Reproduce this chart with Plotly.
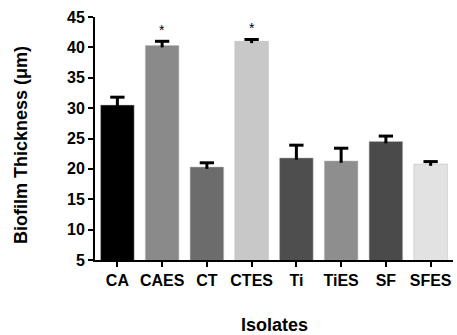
import plotly.graph_objects as go

categories = ["CA", "CAES", "CT", "CTES", "Ti", "TiES", "SF", "SFES"]
values = [30.5, 40.3, 20.3, 41.0, 21.8, 21.3, 24.5, 20.8]
errors = [1.3, 0.7, 0.7, 0.3, 2.1, 2.1, 0.9, 0.4]
colors = ["#000000", "#8a8a8a", "#6c6c6c", "#c8c8c8", "#4e4e4e", "#8e8e8e", "#4a4a4a", "#e2e2e2"]
marks = ["", "*", "", "*", "", "", "", ""]
y_ticks = [5, 10, 15, 20, 25, 30, 35, 40, 45]

W, H = 457, 335
ML, MR, MT, MB = 95, 4, 17, 75
plot_w = W - ML - MR
plot_h = H - MT - MB
xpos = list(range(len(categories)))
cap_half = 0.16

fig = go.Figure()
fig.add_trace(go.Bar(
    x=xpos, y=values, base=0,
    marker=dict(color=colors, line=dict(color="#bbbbbb", width=0.5)),
    width=0.75, showlegend=False, hoverinfo="skip",
))

# error bars: upward stem + top cap only
ex, ey = [], []
for i, v, e in zip(xpos, values, errors):
    ex += [i, i, None, i - cap_half, i + cap_half, None]
    ey += [v - 0.3, v + e, None, v + e, v + e, None]
fig.add_trace(go.Scatter(x=ex, y=ey, mode="lines", line=dict(color="black", width=3),
                         showlegend=False, hoverinfo="skip"))

for i, v, e, m in zip(xpos, values, errors, marks):
    if m:
        fig.add_annotation(x=i, y=v + e, text=m, showarrow=False, yshift=11,
                           font=dict(family="Liberation Sans, Arial", size=14, color="black"))

title_font = dict(family="Liberation Sans, Arial", size=18, color="black")
fig.add_annotation(xref="paper", yref="paper", x=0.5, y=-(325 - (H - MB)) / plot_h,
                   text="<b>Isolates</b>", showarrow=False, xanchor="center", yanchor="middle",
                   font=title_font)
fig.add_annotation(xref="paper", yref="paper", x=-(ML - 21) / plot_w, y=((H - MB) - 145) / plot_h,
                   text="<b>Biofilm Thickness (μm)</b>", showarrow=False, textangle=-90,
                   xanchor="center", yanchor="middle", font=title_font)

tick_font = dict(family="Liberation Sans, Arial", size=16, color="black", weight="bold")
fig.update_layout(
    width=W, height=H,
    margin=dict(l=ML, r=MR, t=MT, b=MB),
    plot_bgcolor="white", paper_bgcolor="white",
    xaxis=dict(range=[-0.5, 7.5], tickvals=xpos, ticktext=categories,
               showline=True, linecolor="black", linewidth=2,
               ticks="outside", ticklen=5, tickwidth=2, tickcolor="black",
               tickfont=tick_font, showgrid=False, zeroline=False),
    yaxis=dict(range=[5, 45], tickvals=y_ticks, showline=True, linecolor="black", linewidth=2,
               ticks="outside", ticklen=5, tickwidth=2, tickcolor="black",
               tickfont=tick_font, showgrid=False, zeroline=False),
)

fig.write_html("out.html", config={"displayModeBar": False},
               post_script="document.body.style.margin='0';document.body.style.overflow='hidden';")
